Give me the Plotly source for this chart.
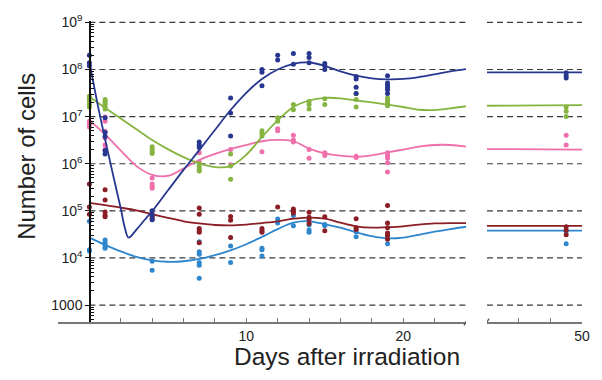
import plotly.graph_objects as go

# ---------------- data ----------------
FONT = "Liberation Sans, Arial, Helvetica, sans-serif"

colors = {
    "navy": "#27378f",
    "green": "#86b440",
    "pink": "#ee6fab",
    "darkred": "#8b1d24",
    "lightblue": "#2e86cd",
}

# measured points: day -> values
navy_pts = {
    0: [2.0e8, 1.4e8, 1.2e8],
    1: [9.5e6, 4.6e6, 3.8e6, 1.9e6, 1.6e6],
    4: [1.0e5, 8.0e4, 6.5e4],
    7: [2.9e6, 2.5e6, 2.2e6],
    9: [2.5e7, 1.2e7, 3.9e6],
    11: [1.0e8, 8.8e7, 4.5e7],
    12: [2.0e8, 1.6e8],
    13: [2.2e8, 1.3e8],
    14: [2.2e8, 1.8e8, 1.4e8],
    15: [1.35e8, 1.2e8, 1.0e8],
    17: [7.1e7, 6.3e7, 4.2e7, 3.1e7],
    19: [7.4e7, 5.2e7, 4.7e7, 4.2e7, 3.7e7, 3.1e7],
    49: [8.5e7, 7.5e7, 6.6e7],
}
green_pts = {
    0: [2.7e7, 2.4e7, 2.1e7, 1.8e7, 1.6e7],
    1: [2.3e7, 2.1e7, 2.0e7, 1.8e7, 1.6e7, 1.45e7],
    4: [2.3e6, 2.0e6, 1.8e6, 1.65e6],
    7: [1.0e6, 8.5e5, 7.5e5, 7.0e5],
    9: [1.6e6, 9.0e5, 4.7e5],
    11: [5.0e6, 4.4e6, 3.9e6],
    12: [9.5e6, 8.0e6],
    13: [1.8e7, 1.4e7],
    14: [2.1e7, 1.8e7, 1.45e7],
    15: [2.4e7, 1.8e7],
    17: [3.1e7, 2.3e7, 1.6e7],
    19: [2.5e7, 2.2e7, 2.0e7, 1.9e7, 1.7e7],
    49: [1.6e7, 1.3e7, 1.0e7],
}
pink_pts = {
    0: [8.0e6, 7.0e6, 6.0e6],
    1: [9.8e6, 8.0e6, 4.9e6, 3.5e6, 2.5e6, 2.0e6],
    4: [5.0e5, 3.7e5, 3.3e5, 3.0e5],
    7: [1.7e6, 1.1e6],
    9: [2.0e6, 9.5e5],
    11: [1.8e6],
    12: [5.5e6, 5.0e6],
    13: [4.0e6, 3.2e6, 2.9e6],
    14: [2.0e6, 1.3e6],
    15: [1.7e6, 1.5e6],
    17: [1.45e6, 1.35e6],
    19: [1.7e6, 1.5e6, 1.3e6, 1.05e6, 6.7e5],
    49: [4.0e6, 2.5e6],
}
darkred_pts = {
    0: [3.7e5, 1.2e5, 8.5e4],
    1: [2.8e5, 1.7e5, 9.5e4, 8.0e4, 7.5e4],
    4: [8.5e4, 7.5e4, 6.7e4],
    7: [1.15e5, 8.5e4, 4.2e4, 3.8e4, 3.5e4, 2.1e4],
    9: [7.6e4, 6.3e4, 2.7e4],
    11: [4.2e4, 3.8e4, 3.5e4],
    12: [1.2e5],
    13: [1.1e5, 9.8e4, 9.0e4],
    14: [9.3e4, 7.3e4, 6.6e4, 5.4e4],
    15: [7.5e4, 3.8e4],
    17: [6.8e4, 4.4e4, 4.0e4],
    19: [1.3e5, 5.5e4, 4.4e4, 3.4e4, 3.0e4, 2.5e4],
    49: [4.6e4, 3.9e4, 3.1e4],
}
lightblue_pts = {
    0: [6.0e4, 1.5e4, 1.4e4],
    1: [2.4e4, 2.1e4, 1.9e4, 1.7e4, 1.6e4],
    4: [8.5e3, 5.5e3],
    7: [2.2e4, 1.35e4, 1.2e4, 8.0e3, 7.0e3, 3.7e3],
    9: [1.8e4, 8.0e3],
    11: [1.6e4, 1.5e4, 1.1e4],
    12: [6.7e4, 5.5e4],
    13: [8.0e4, 4.8e4],
    14: [5.0e4, 3.9e4, 3.5e4],
    15: [5.1e4, 4.8e4],
    17: [3.6e4, 2.8e4],
    19: [3.0e4, 2.0e4],
    49: [3.7e4, 2.0e4],
}

# fitted curves (knots)
navy_curve_days = [0, 0.5, 1, 1.5, 2, 2.25, 2.5, 3, 3.5, 4, 5, 6, 7, 8, 9, 10, 11, 12,
                   13, 14, 15, 16, 17, 18, 19, 20, 21, 22, 23, 24]
navy_curve = [1.48e8, 2.0e7, 3.3e6, 6.0e5, 1.12e5, 4.5e4, 2.7e4, 4.0e4, 6.3e4, 9.8e4,
              2.7e5, 7.4e5, 1.95e6, 5.2e6, 1.38e7, 3.2e7, 6.3e7, 1.0e8, 1.32e8, 1.41e8,
              1.2e8, 9.1e7, 7.4e7, 6.5e7, 6.2e7, 6.3e7, 6.9e7, 7.9e7, 9.1e7, 1.02e8]

curve_days = [0, 1, 2, 3, 4, 5, 6, 7, 8, 9, 10, 11, 12, 13, 14, 15, 16, 17, 18, 19,
              20, 21, 22, 23, 24]
green_curve = [2.63e7, 1.55e7, 9.1e6, 5.4e6, 3.2e6, 2.04e6, 1.38e6, 1.02e6, 8.5e5, 8.9e5,
               1.55e6, 3.7e6, 8.3e6, 1.6e7, 2.2e7, 2.5e7, 2.45e7, 2.2e7, 2.0e7, 1.8e7,
               1.6e7, 1.4e7, 1.38e7, 1.5e7, 1.66e7]
pink_curve = [8.3e6, 4.2e6, 1.9e6, 8.9e5, 5.8e5, 5.5e5, 7.9e5, 1.2e6, 1.62e6, 2.05e6,
              2.5e6, 3.0e6, 3.2e6, 3.0e6, 2.1e6, 1.66e6, 1.48e6, 1.41e6, 1.51e6, 1.74e6,
              2.0e6, 2.3e6, 2.5e6, 2.5e6, 2.3e6]
darkred_curve = [1.48e5, 1.32e5, 1.17e5, 1.02e5, 8.5e4, 7.1e4, 6.0e4, 5.4e4, 5.0e4, 4.9e4,
                 5.1e4, 5.5e4, 6.0e4, 6.8e4, 7.2e4, 6.8e4, 5.6e4, 4.7e4, 4.4e4, 4.5e4,
                 4.7e4, 5.1e4, 5.4e4, 5.5e4, 5.5e4]
lightblue_curve = [2.7e4, 1.9e4, 1.38e4, 1.05e4, 8.9e3, 8.3e3, 8.5e3, 9.5e3, 1.15e4, 1.45e4,
                   1.95e4, 2.8e4, 4.1e4, 5.6e4, 6.0e4, 5.2e4, 4.4e4, 3.5e4, 2.9e4, 2.6e4,
                   2.7e4, 3.1e4, 3.6e4, 4.1e4, 4.6e4]

late_curve_days = [44, 50]
navy_late = [8.7e7, 8.7e7]
green_late = [1.7e7, 1.75e7]
pink_late = [2.05e6, 2.0e6]
darkred_late = [4.8e4, 4.8e4]
lightblue_late = [3.8e4, 3.8e4]

y_tickvals = [1e3, 1e4, 1e5, 1e6, 1e7, 1e8, 1e9]
y_ticktext = ["1000", "10<sup>4</sup>", "10<sup>5</sup>", "10<sup>6</sup>",
              "10<sup>7</sup>", "10<sup>8</sup>", "10<sup>9</sup>"]
x1_tickvals = [2, 4, 6, 8, 10, 12, 14, 16, 18, 20, 22]
x1_ticktext = ["", "", "", "", "10", "", "", "", "", "20", ""]
x2_tickvals = [46, 48, 50]
x2_ticktext = ["", "", "50"]
panel1_span = [0, 24]
panel2_span = [44, 50]

series = [
    ("lightblue", lightblue_pts, curve_days, lightblue_curve, lightblue_late),
    ("darkred", darkred_pts, curve_days, darkred_curve, darkred_late),
    ("pink", pink_pts, curve_days, pink_curve, pink_late),
    ("green", green_pts, curve_days, green_curve, green_late),
    ("navy", navy_pts, navy_curve_days, navy_curve, navy_late),
]

# ---------------- figure ----------------
fig = go.Figure()

# dashed horizontal grid lines at the major y ticks, in each panel
for v in y_tickvals:
    for xa, span in (("x", panel1_span), ("x2", panel2_span)):
        fig.add_trace(go.Scatter(x=span, y=[v, v], mode="lines", xaxis=xa, yaxis="y",
                                 line=dict(color="#3a3a3a", width=1.2, dash="6px,4px"),
                                 hoverinfo="skip", showlegend=False))

for name, pts, cdays, cvals, late in series:
    col = colors[name]
    early_x, early_y, late_x, late_y = [], [], [], []
    for d, vals in pts.items():
        for v in vals:
            if d > 30:
                late_x.append(d); late_y.append(v)
            else:
                early_x.append(d); early_y.append(v)
    fig.add_trace(go.Scatter(x=early_x, y=early_y, mode="markers",
                             marker=dict(color=col, size=5), xaxis="x", yaxis="y",
                             showlegend=False, cliponaxis=False))
    fig.add_trace(go.Scatter(x=late_x, y=late_y, mode="markers",
                             marker=dict(color=col, size=5), xaxis="x2", yaxis="y",
                             showlegend=False))
    fig.add_trace(go.Scatter(x=cdays, y=cvals, mode="lines",
                             line=dict(color=col, width=1.8, shape="spline", smoothing=1.0),
                             xaxis="x", yaxis="y", showlegend=False))
    fig.add_trace(go.Scatter(x=late_curve_days, y=late, mode="lines",
                             line=dict(color=col, width=1.8),
                             xaxis="x2", yaxis="y", showlegend=False))

# axis-break slashes
shapes = []
for xr, xc in (("x", 24), ("x2", 44)):
    shapes.append(dict(type="line", xref=xr, yref="paper", x0=xc - 0.13, x1=xc + 0.13,
                       y0=-0.011, y1=0.011, line=dict(color="#555", width=1.3)))

y_minor = [m * 10 ** k for k in range(2, 9) for m in range(2, 10)]

axis_font = dict(family=FONT, size=14, color="#222")
fig.update_layout(
    width=602, height=380,
    margin=dict(l=58, r=20, t=15, b=58),
    paper_bgcolor="white", plot_bgcolor="white",
    font=dict(family=FONT, color="#222"),
    shapes=shapes,
    xaxis=dict(domain=[0, 0.7786], range=[-2, 24], anchor="y",
               showline=True, linecolor="#777", linewidth=1.5,
               tickmode="array", tickvals=x1_tickvals, ticktext=x1_ticktext,
               ticks="inside", ticklen=4, tickcolor="#777", tickwidth=1,
               tickfont=axis_font, showgrid=False, zeroline=False),
    xaxis2=dict(domain=[0.8187, 1.0], range=[44, 50], anchor="y",
                showline=True, linecolor="#777", linewidth=1.5,
                tickmode="array", tickvals=x2_tickvals, ticktext=x2_ticktext,
                ticks="inside", ticklen=4, tickcolor="#777", tickwidth=1,
                tickfont=axis_font, showgrid=False, zeroline=False),
    yaxis=dict(type="log", range=[2.64, 9.03], anchor="free", position=0.0611,
               showline=True, linecolor="#111", linewidth=1.5,
               tickmode="array", tickvals=y_tickvals, ticktext=y_ticktext,
               ticks="outside", ticklen=4, tickcolor="#111",
               minor=dict(tickmode="array", tickvals=y_minor, ticks="inside",
                          ticklen=3, tickcolor="#111", showgrid=False),
               tickfont=axis_font, showgrid=False, zeroline=False),
    annotations=[
        dict(text="Number of cells", xref="paper", yref="paper", x=-0.059, y=0.549,
             textangle=-90, showarrow=False, xanchor="center", yanchor="middle",
             font=dict(family=FONT, size=24, color="#222")),
        dict(text="Days after irradiation", xref="paper", yref="paper", x=0.5515, y=-0.114,
             showarrow=False, xanchor="center", yanchor="middle",
             font=dict(family=FONT, size=24.5, color="#222")),
    ],
)

fig.write_html("out.html")
